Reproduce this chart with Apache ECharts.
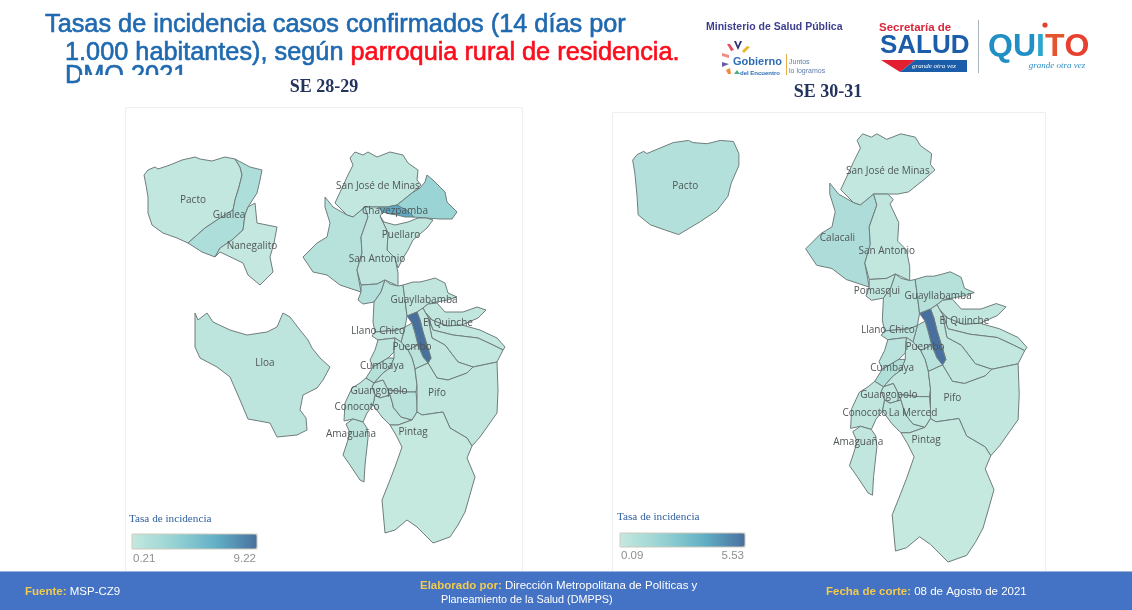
<!DOCTYPE html>
<html>
<head>
<meta charset="utf-8">
<title>Tasas de incidencia</title>
<script src="https://cdn.jsdelivr.net/npm/echarts@6/dist/echarts.min.js"></script>
<style>
  html, body { margin: 0; background: #fff; }
  #main { width: 1132px; height: 610px; }
</style>
</head>
<body>
<div id="main"></div>
<script>
// tasas leidas de la leyenda y del color de cada parroquia (estimadas)
var parroquias = ['Pacto', 'Gualea', 'Nanegalito', 'Lloa', 'San José de Minas', 'Atahualpa', 'Chavezpamba', 'Puellaro',
  'Calacali', 'San Antonio', 'Pomasqui', 'Calderón', 'Guayllabamba', 'El Quinche', 'Checa', 'Yaruquí', 'Tababela',
  'Franja central', 'Celda norte', 'Celda sur', 'Llano Chico', 'Nayón', 'Cumbaya', 'Tumbaco', 'Guangopolo', 'Alangasí',
  'La Merced', 'Conocoto', 'Amaguaña', 'Pifo', 'Pintag'];
var tasaSE2829 = [0.4, 1.7, 0.3, 0.7, 0.4, 3.0, 6.6, 0.5, 1.1, 0.6, 1.3, 0.9, 0.5, 0.5, 0.4, 0.4, 0.5,
  9.22, 0.9, 0.9, 0.6, 0.7, 1.2, 0.7, 0.6, 0.6, 1.0, 0.7, 0.8, 0.5, 0.21];
var tasaSE3031 = [0.75, null, null, null, 0.2, null, null, null, 1.0, 0.3, 0.3, 0.5, 0.7, 0.3, 0.2, 0.2, 0.25,
  5.53, 0.7, 0.6, 0.5, 0.5, 0.9, 0.3, 0.3, 0.4, 0.2, 0.3, 0.3, 0.2, 0.09];

var rotulosSE2829 = ['Pacto', 'Gualea', 'Nanegalito', 'Lloa', 'San José de Minas', 'Chavezpamba', 'Puellaro', 'San Antonio',
  'Guayllabamba', 'El Quinche', 'Llano Chico', 'Puembo', 'Cumbaya', 'Guangopolo', 'Conocoto', 'Amaguaña', 'Pifo', 'Pintag'];
var rotulosSE3031 = ['Pacto', 'San José de Minas', 'Calacali', 'San Antonio', 'Pomasqui', 'Guayllabamba', 'El Quinche',
  'Llano Chico', 'Puembo', 'Cumbaya', 'Guangopolo', 'Conocoto', 'La Merced', 'Amaguaña', 'Pifo', 'Pintag'];

var rangoSE2829 = [0.21, 9.22];
var rangoSE3031 = [0.09, 5.53];
var colores = ['#c5e8df', '#97d3d4', '#63b0c6', '#48709e'];

// contornos de las parroquias, en unidades del mapa (y hacia abajo)
var contornos = {
  'Pacto': [[144,175],[148,170],[155,167],[158,169],[170,165],[182,160],[195,157],[200,159],[212,161],[225,157],[235,159],[240,167],[242,175],[239,187],[235,200],[233,210],[220,218],[205,228],[188,243],[177,238],[163,233],[152,225],[148,213],[148,197],[146,185]],
  'Gualea': [[235,159],[250,167],[262,170],[260,180],[257,193],[248,207],[245,215],[243,230],[232,240],[220,248],[215,257],[202,252],[188,243],[205,228],[220,218],[233,210],[235,200],[239,187],[242,175],[240,167]],
  'Nanegalito': [[248,207],[255,203],[257,223],[277,227],[274,243],[270,257],[273,272],[260,285],[248,275],[243,263],[220,252],[215,257],[220,248],[232,240],[243,230],[245,215]],
  'Lloa': [[195,313],[198,320],[207,313],[213,322],[230,330],[247,335],[267,332],[277,327],[283,313],[290,317],[300,330],[308,340],[312,348],[320,358],[330,367],[323,380],[317,388],[303,395],[300,410],[306,418],[307,430],[297,435],[277,437],[270,423],[248,419],[240,400],[230,377],[217,367],[200,358],[195,347],[195,333]],
  'San José de Minas': [[350,158],[355,152],[363,155],[368,152],[377,157],[390,152],[403,155],[408,163],[418,170],[417,180],[421,185],[412,193],[397,205],[387,207],[378,207],[365,207],[353,217],[347,215],[335,203],[342,188],[347,177],[353,165]],
  'Atahualpa': [[427,175],[433,180],[445,192],[447,202],[457,212],[452,219],[440,219],[427,218],[413,217],[397,205],[412,193],[420,188],[425,182]],
  'Chavezpamba': [[378,207],[387,207],[397,205],[408,211],[414,217],[405,217],[397,215],[390,214],[383,212]],
  'Puellaro': [[380,216],[384,222],[395,225],[408,222],[418,218],[426,218],[433,220],[427,228],[413,240],[408,250],[403,258],[398,268],[395,258],[387,250],[388,233]],
  'Calacali': [[325,197],[333,207],[347,215],[353,217],[365,207],[368,217],[361,237],[362,253],[357,270],[361,292],[340,285],[327,275],[313,272],[303,257],[317,243],[327,237],[330,223],[325,207]],
  'San Antonio': [[365,207],[378,207],[383,212],[380,216],[388,233],[387,250],[395,258],[398,273],[398,286],[385,280],[377,284],[361,285],[357,270],[362,253],[361,237],[368,217]],
  'Pomasqui': [[361,285],[377,284],[385,280],[381,292],[374,302],[363,304],[358,300],[361,292]],
  'Calderón': [[385,280],[390,284],[398,286],[403,285],[405,300],[407,316],[405,327],[398,330],[375,332],[373,322],[374,302],[381,292]],
  'Guayllabamba': [[403,285],[413,282],[420,282],[428,280],[435,278],[445,283],[448,293],[457,297],[447,300],[437,302],[428,304],[423,308],[417,312],[407,316],[405,300]],
  'El Quinche': [[423,308],[428,304],[437,303],[445,312],[463,312],[477,307],[486,310],[478,318],[462,325],[447,326],[432,320],[425,312]],
  'Checa': [[425,312],[432,320],[447,326],[462,325],[480,330],[497,338],[505,347],[503,350],[493,345],[478,338],[453,335],[433,330],[428,317]],
  'Yaruquí': [[428,317],[433,330],[453,335],[478,338],[493,345],[503,350],[497,362],[473,367],[458,362],[445,345],[432,338],[430,328]],
  'Tababela': [[417,312],[423,308],[425,312],[428,317],[430,328],[432,338],[445,345],[458,362],[473,367],[467,373],[448,380],[437,378],[428,363],[431,358],[427,345],[423,332],[420,320]],
  'Franja central': [[407,316],[417,312],[420,320],[423,332],[427,345],[431,358],[428,363],[423,357],[418,345],[415,333],[412,323]],
  'Celda norte': [[405,327],[412,323],[415,333],[418,345],[408,350],[401,342]],
  'Celda sur': [[408,350],[418,345],[423,357],[428,363],[415,369],[412,358]],
  'Llano Chico': [[375,332],[398,330],[405,327],[401,342],[395,338],[378,340],[372,336]],
  'Nayón': [[378,340],[395,338],[394,352],[388,358],[373,367],[370,360],[375,350]],
  'Cumbaya': [[388,358],[394,358],[390,368],[383,373],[374,383],[366,378],[373,367]],
  'Tumbaco': [[395,338],[401,342],[408,350],[412,358],[415,369],[417,385],[416,392],[407,392],[388,390],[383,380],[374,383],[383,373],[390,368],[394,358],[394,352]],
  'Guangopolo': [[374,383],[383,380],[388,390],[390,395],[380,398],[375,395],[372,387]],
  'Alangasí': [[375,395],[380,398],[390,395],[393,405],[393,407],[401,417],[412,420],[398,425],[390,425],[382,417],[373,405]],
  'La Merced': [[390,395],[388,390],[407,392],[416,392],[417,403],[417,412],[412,420],[401,417],[393,407],[393,405]],
  'Conocoto': [[352,388],[360,383],[366,378],[374,383],[372,387],[375,395],[373,405],[367,413],[363,422],[353,419],[344,421],[345,403]],
  'Amaguaña': [[353,419],[363,422],[367,428],[368,438],[367,447],[365,465],[364,482],[360,480],[350,465],[343,455],[347,443],[350,433],[346,424]],
  'Pifo': [[415,369],[428,363],[437,378],[448,380],[467,373],[473,367],[497,362],[498,390],[497,413],[480,437],[472,446],[467,438],[450,428],[443,412],[422,415],[417,412],[417,403],[417,385]],
  'Pintag': [[472,446],[467,438],[450,428],[443,412],[422,415],[417,412],[412,420],[398,425],[390,425],[396,435],[402,447],[395,467],[388,485],[382,500],[385,533],[395,530],[407,520],[417,527],[433,543],[450,537],[458,525],[465,512],[475,477],[467,458]]
};
// en SE 30-31 Pacto aparece con otro contorno
var pactoSE3031 = [[145,176],[149,171],[155,168],[158,170],[170,165],[182,160],[196,158],[200,160],[213,161],[225,158],[237,159],[242,170],[242,181],[235,197],[232,209],[222,222],[207,232],[187,244],[175,240],[161,235],[150,226],[149,209],[147,188]];

// punto donde va cada rotulo
var anclas = {
  'Pacto': [193,200], 'Gualea': [229,215], 'Nanegalito': [252,246], 'Lloa': [265,363], 'San José de Minas': [378,186],
  'Chavezpamba': [395,211], 'Puellaro': [401,235], 'Calacali': [332,247], 'San Antonio': [377,259], 'Pomasqui': [368,296],
  'Guayllabamba': [424,300], 'El Quinche': [448,323], 'Llano Chico': [378,331], 'Franja central': [412,347], 'Cumbaya': [382,366],
  'Guangopolo': [379,391], 'La Merced': [401,407], 'Conocoto': [357,407], 'Amaguaña': [351,434], 'Pifo': [437,393], 'Pintag': [413,432]
};

function armarMapa(nombres, rings) {
  return {
    type: 'FeatureCollection',
    features: nombres.map(function (n) {
      var a = anclas[n];
      return {
        type: 'Feature',
        properties: a ? { name: n, cp: [a[0], -a[1]] } : { name: n },
        geometry: { type: 'Polygon', coordinates: [rings[n].map(function (p) { return [p[0], -p[1]]; }).concat([[rings[n][0][0], -rings[n][0][1]]])] }
      };
    })
  };
}

// caja en pantalla a partir de los contornos, la escala y el desplazamiento
function caja(nombres, rings, esc, dx, dy) {
  var xs = [], ys = [];
  nombres.forEach(function (n) {
    rings[n].forEach(function (p) { xs.push(p[0]); ys.push(p[1]); });
  });
  var x0 = Math.min.apply(null, xs), x1 = Math.max.apply(null, xs);
  var y0 = Math.min.apply(null, ys), y1 = Math.max.apply(null, ys);
  return { left: x0 * esc + dx, top: y0 * esc + dy, width: (x1 - x0) * esc, height: (y1 - y0) * esc };
}

var nombres1 = parroquias.filter(function (n, i) { return tasaSE2829[i] != null; });
var nombres2 = parroquias.filter(function (n, i) { return tasaSE3031[i] != null; });
var rings1 = contornos;
var rings2 = Object.assign({}, contornos, { 'Pacto': pactoSE3031 });

echarts.registerMap('se2829', armarMapa(nombres1, rings1));
echarts.registerMap('se3031', armarMapa(nombres2, rings2));

function serieMapa(mapa, nombres, rings, tasas, rotulos, esc, dx, dy) {
  var c = caja(nombres, rings, esc, dx, dy);
  return {
    type: 'map',
    map: mapa,
    aspectScale: 1,
    roam: false,
    silent: true,
    left: c.left, top: c.top, width: c.width, height: c.height,
    label: { show: false, color: '#4f5656', fontSize: 10, fontFamily: 'Open Sans' },
    itemStyle: { borderColor: '#6f7d7d', borderWidth: 1, areaColor: colores[0] },
    data: nombres.map(function (n) {
      var i = parroquias.indexOf(n);
      var r = rotulos.indexOf(n) >= 0 || (n === 'Franja central' && rotulos.indexOf('Puembo') >= 0);
      return {
        name: n,
        value: tasas[i],
        label: { show: r, formatter: n === 'Franja central' ? 'Puembo' : n }
      };
    })
  };
}

function texto(x, y, t, font, fill, align) {
  return {
    type: 'text',
    z: 10,
    style: { x: x, y: y, text: t, font: font, fill: fill, textAlign: align || 'left', textVerticalAlign: 'middle' }
  };
}
function rico(x, y, t, rich, align) {
  return {
    type: 'text',
    z: 10,
    style: { x: x, y: y, text: t, rich: rich, textAlign: align || 'left', textVerticalAlign: 'middle' }
  };
}
function poli(puntos, fill) {
  return { type: 'polygon', z: 10, shape: { points: puntos }, style: { fill: fill } };
}
function rect(x, y, w, h, estilo, z) {
  return { type: 'rect', z: z || 0, shape: { x: x, y: y, width: w, height: h }, style: estilo };
}
function grueso(el, color) {
  el.style.stroke = color;
  el.style.lineWidth = 0.6;
  return el;
}

var azul = '#1f69b0';
var arial = '"Liberation Sans"';
var pie = {
  a: { fill: '#f2cb4e', font: 'bold 11.5px ' + arial },
  b: { fill: '#fff', font: '11.5px ' + arial },
  c: { fill: '#fff', font: '10.8px ' + arial }
};
var titulo2 = {
  a: { fill: azul, font: '25.3px ' + arial, stroke: azul, lineWidth: 0.6 },
  b: { fill: '#fb0d1b', font: '25.3px ' + arial, stroke: '#fb0d1b', lineWidth: 0.6 }
};

var graficos = [
  // tarjetas
  rect(125.5, 107.5, 397, 470, { fill: '#fff', stroke: '#efefef' }),
  rect(612.5, 112.5, 433, 470, { fill: '#fff', stroke: '#efefef' }),
  // titulo
  grueso(texto(45, 25, 'Tasas de incidencia casos confirmados (14 días por', '25.3px ' + arial, azul), azul),
  rico(65, 53, '{a|1.000 habitantes), según }{b|parroquia rural de residencia.}', titulo2),
  grueso(texto(65, 76, 'DMQ 2021', '25.3px ' + arial, azul), azul),
  rect(80, 75, 320, 16, { fill: '#fff' }, 11),
  rect(60, 84, 340, 10, { fill: '#fff' }, 11),
  Object.assign(texto(324, 87, 'SE 28-29', 'bold 18px "Liberation Serif"', '#23345f', 'center'), { z: 12 }),
  texto(828, 92, 'SE 30-31', 'bold 18px "Liberation Serif"', '#23345f', 'center'),
  // leyendas
  texto(129, 519, 'Tasa de incidencia', '11.2px "Liberation Serif"', '#2f5f9e'),
  rect(132, 534, 125, 15, { fill: 'none', stroke: '#cfcabb' }, 20),
  texto(133, 559, '0.21', '11.5px ' + arial, '#8f8f8f'),
  texto(256, 559, '9.22', '11.5px ' + arial, '#8f8f8f', 'right'),
  texto(617, 517, 'Tasa de incidencia', '11.2px "Liberation Serif"', '#2f5f9e'),
  rect(620, 533, 125, 14, { fill: 'none', stroke: '#cfcabb' }, 20),
  texto(621, 556, '0.09', '11.5px ' + arial, '#8f8f8f'),
  texto(744, 556, '5.53', '11.5px ' + arial, '#8f8f8f', 'right'),
  // logos
  texto(706, 27, 'Ministerio de Salud Pública', 'bold 10.5px ' + arial, '#3d3f8e'),
  poli([[734,41],[736,41],[738,46],[740,41],[742,41],[738,50]], '#2b2f73'),
  poli([[727,44],[730,44],[734,50],[731,51]], '#e2506a'),
  poli([[747,46],[750,47],[744,53],[742,51]], '#f0b429'),
  poli([[722,53],[729,55],[729,58],[722,56]], '#f28b82'),
  poli([[722,62],[729,64],[722,67]], '#6a5aa8'),
  poli([[726,70],[730,68],[731,74],[728,74]], '#ef8b3c'),
  poli([[734,74],[737,70],[740,74]], '#4caf7d'),
  texto(733, 62, 'Gobierno', 'bold 11px ' + arial, '#2e6db5'),
  texto(740, 73, 'del Encuentro', 'bold 6px ' + arial, '#2e6db5'),
  rect(786, 54, 1, 21, { fill: '#e8b04a' }, 10),
  texto(789, 62, 'Juntos', '7px ' + arial, '#5d7ca8'),
  texto(789, 71, 'lo logramos', '7px ' + arial, '#5d7ca8'),
  texto(879, 28, 'Secretaría de', 'bold 11.5px ' + arial, '#d8283c'),
  texto(880, 46, 'SALUD', 'bold 26px ' + arial, '#1b5da8'),
  poli([[881,60],[915,60],[900,72]], '#e3202f'),
  poli([[915,60],[967,60],[967,72],[900,72]], '#1b5da8'),
  texto(934, 66, 'grande otra vez', 'italic 7px "Liberation Serif"', '#fff', 'center'),
  rect(978, 20, 1, 53, { fill: '#a9b4bb' }, 10),
  rico(988, 47, '{a|QU}{a2|I}{b|T}{c|O}', {
    a: { fill: '#1f8fc6', font: 'bold 32px ' + arial },
    a2: { fill: '#2aa6cf', font: 'bold 32px ' + arial },
    b: { fill: '#e4552f', font: 'bold 32px ' + arial },
    c: { fill: '#e8402f', font: 'bold 32px ' + arial }
  }),
  { type: 'circle', z: 10, shape: { cx: 1045, cy: 25, r: 2.6 }, style: { fill: '#e8402f' } },
  texto(1057, 66, 'grande otra vez', 'italic 9px "Liberation Serif"', '#2f8fc4', 'center'),
  // franja inferior
  rect(0, 572, 1132, 38, { fill: '#4472c4' }, 10),
  rect(0, 571, 1132, 1, { fill: '#9db5dd' }, 10),
  rico(25, 592, '{a|Fuente: }{b|MSP-CZ9}', pie),
  rico(420, 586, '{a|Elaborado por: }{b|Dirección Metropolitana de Políticas y}', pie),
  rico(441, 600, '{c|Planeamiento de la Salud (DMPPS)}', pie),
  rico(826, 592, '{a|Fecha de corte: }{b|08 de Agosto de 2021}', pie)
];

var chart = echarts.init(document.getElementById('main'));
chart.setOption({
  animation: false,
  backgroundColor: '#fff',
  graphic: { elements: graficos },
  visualMap: [
    {
      type: 'continuous', seriesIndex: 0, orient: 'horizontal', padding: 0,
      left: 132, top: 534, itemWidth: 15, itemHeight: 125,
      min: rangoSE2829[0], max: rangoSE2829[1], calculable: false, hoverLink: false,
      text: null, inRange: { color: colores }
    },
    {
      type: 'continuous', seriesIndex: 1, orient: 'horizontal', padding: 0,
      left: 620, top: 533, itemWidth: 14, itemHeight: 125,
      min: rangoSE3031[0], max: rangoSE3031[1], calculable: false, hoverLink: false,
      text: null, inRange: { color: colores }
    }
  ],
  series: [
    serieMapa('se2829', nombres1, rings1, tasaSE2829, rotulosSE2829, 1, 0, 0),
    serieMapa('se3031', nombres2, rings2, tasaSE3031, rotulosSE3031, 1.095, 473.9, -32.6)
  ]
});
</script>
</body>
</html>
